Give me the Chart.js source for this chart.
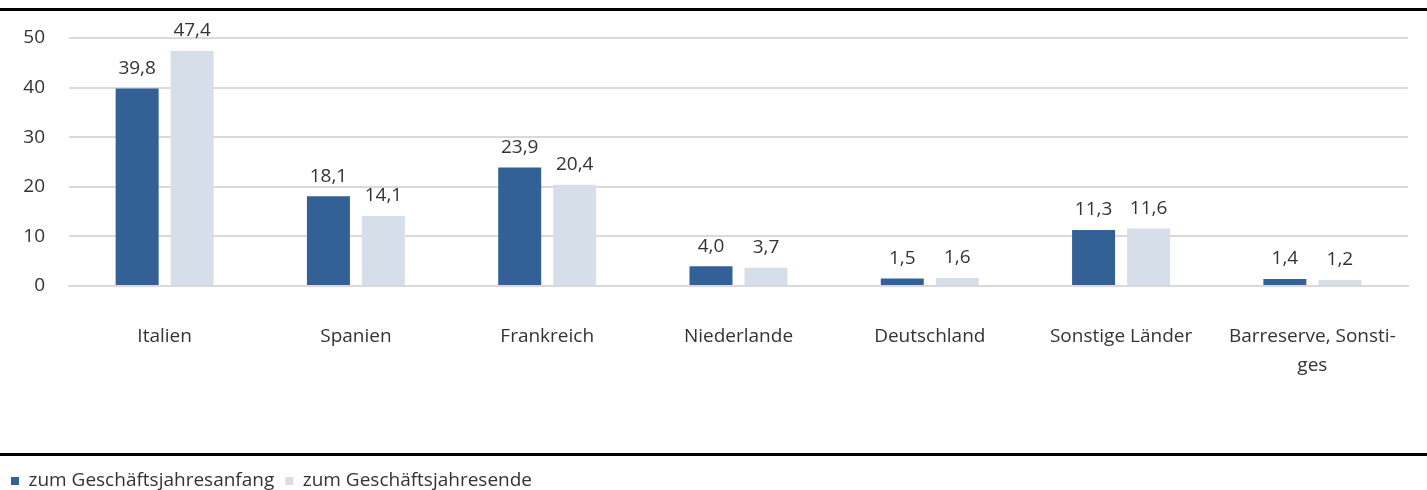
<!DOCTYPE html>
<html><head><meta charset="utf-8">
<script src="https://cdn.jsdelivr.net/npm/chart.js@4.4.1/dist/chart.umd.min.js"></script>
<style>html,body{margin:0;padding:0;background:#fff}#wrap{width:1427px;height:490px;position:relative}</style>
</head><body><div id="wrap"><canvas id="c" width="1427" height="490"></canvas></div>
<script>
const categories = ['Italien','Spanien','Frankreich','Niederlande','Deutschland','Sonstige Länder',['Barreserve, Sonsti-','ges']];
const seriesNames = ['zum Geschäftsjahresanfang','zum Geschäftsjahresende'];
const startValues = [39.8,18.1,23.9,4.0,1.5,11.3,1.4];
const endValues = [47.4,14.1,20.4,3.7,1.6,11.6,1.2];
const yTicks = [0,10,20,30,40,50];

const DARK = '#336196';
const LIGHT = '#d6dfe9';
const TXT = '#333333';
const FONT = '"Open Sans", "Noto Sans", sans-serif';
const FS = 19;

const decor = {
  id: 'decor',
  afterDraw(chart) {
    const ctx = chart.ctx;
    ctx.save();
    ctx.fillStyle = '#000';
    ctx.fillRect(0, 8, 1427, 3);
    ctx.fillRect(0, 453, 1427, 3);
    ctx.restore();
  }
};
const valueLabels = {
  id: 'valueLabels',
  afterDatasetsDraw(chart) {
    const ctx = chart.ctx;
    ctx.save();
    ctx.font = FS + 'px ' + FONT;
    ctx.fillStyle = TXT;
    ctx.textAlign = 'center';
    ctx.textBaseline = 'middle';
    chart.data.datasets.forEach((ds, i) => {
      chart.getDatasetMeta(i).data.forEach((bar, j) => {
        ctx.fillText(ds.data[j].toFixed(1).replace('.', ','), bar.x, bar.y - 20);
      });
    });
    ctx.restore();
  }
};

new Chart(document.getElementById('c'), {
  type: 'bar',
  data: {
    labels: categories,
    datasets: [
      {label: seriesNames[0], data: startValues, backgroundColor: DARK, categoryPercentage: 0.575, barPercentage: 0.782},
      {label: seriesNames[1], data: endValues, backgroundColor: LIGHT, categoryPercentage: 0.575, barPercentage: 0.782}
    ]
  },
  options: {
    responsive: false,
    animation: false,
    layout: {padding: {top: 38, right: 19, left: 0, bottom: -10.5}},
    plugins: {
      legend: {
        position: 'bottom', align: 'start',
        labels: {boxWidth: 8, boxHeight: 8, padding: 11, color: TXT, font: {family: FONT, size: FS}}
      },
      tooltip: {enabled: false}
    },
    scales: {
      x: {
        grid: {display: false, drawTicks: false},
        border: {display: true, color: '#d9d9d9', width: 2},
        ticks: {color: TXT, font: {family: FONT, size: FS, lineHeight: 29/FS}, padding: 36.5, autoSkip: false, maxRotation: 0},
        afterFit(s) { s.height = 174.5; s.paddingLeft = 0; s.paddingRight = 0; }
      },
      y: {
        min: 0, max: 50,
        afterBuildTicks(s) { s.ticks = yTicks.map(v => ({value: v})); },
        grid: {color: '#d9d9d9', lineWidth: 2, drawTicks: false},
        border: {display: false},
        ticks: {color: TXT, font: {family: FONT, size: FS}, padding: 24},
        afterFit(s) { s.width = 69; s.paddingTop = 0; s.paddingBottom = 0; }
      }
    }
  },
  plugins: [decor, valueLabels]
});
</script></body></html>
